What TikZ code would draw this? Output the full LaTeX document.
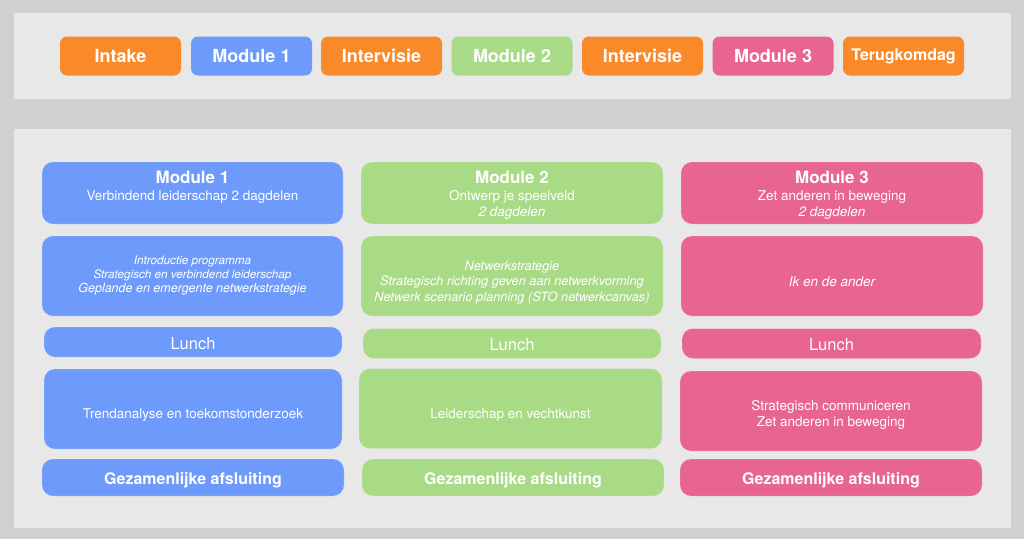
\documentclass[tikz,border=0pt]{standalone}
\usepackage{fontspec}
\setmainfont{TeX Gyre Heros}
\definecolor{bgc}{HTML}{D0D0D0}
\definecolor{panelc}{HTML}{E8E8E8}
\definecolor{mblue}{HTML}{6D9AFB}
\definecolor{mgreen}{HTML}{A9DB86}
\definecolor{mpink}{HTML}{E76493}
\definecolor{morange}{HTML}{FA8A29}
\newcommand\fHead{\fontsize{17}{16.5}\selectfont\bfseries}
\newcommand\fSub{\fontsize{13.5}{16.5}\selectfont\mdseries\upshape}
\newcommand\fSubIt{\fontsize{13.5}{16.5}\selectfont\mdseries\itshape}
\newcommand\fSmIt{\fontsize{11.7}{14}\selectfont\mdseries\itshape}
\newcommand\fMdIt{\fontsize{12.5}{14}\selectfont\mdseries\itshape}
\newcommand\fNwIt{\fontsize{12.8}{15.5}\selectfont\mdseries\itshape}
\newcommand\fBody{\fontsize{13.5}{16}\selectfont\mdseries\upshape}
\begin{document}
\begin{tikzpicture}[x=1pt,y=-1pt,
  tab/.style={rounded corners=7pt, text=white, font=\fontsize{18}{20}\selectfont\bfseries,
    minimum width=121pt, minimum height=39pt, inner sep=0pt},
  card/.style={rounded corners=11pt, inner sep=0pt,
    draw=white, draw opacity=0.2, line width=0.6pt},
  lbl/.style={text=white, align=center, inner sep=0pt},
  headlbl/.style={lbl, font=\fontsize{13.5}{16.5}\selectfont},
  bodylbl/.style={lbl, font=\fontsize{13.5}{16}\selectfont},
  lunchlbl/.style={lbl, font=\fontsize{16.5}{18}\selectfont},
  closelbl/.style={lbl, font=\fontsize{16}{18}\selectfont\bfseries}
]
\useasboundingbox (0,0) rectangle (1024,539);
\fill[bgc] (0,0) rectangle (1024,539);
\fill[panelc] (14,13) rectangle (1011,98.7);
\fill[panelc] (14,128.7) rectangle (1011,527.7);

% top bar
\node[tab, fill=morange] (t1) at (120.5,56) {Intake};
\node[tab, fill=mblue]   (t2) at (251.5,56) {Module 1};
\node[tab, fill=morange] (t3) at (381.5,56) {Intervisie};
\node[tab, fill=mgreen]  (t4) at (512,56)   {Module 2};
\node[tab, fill=morange] (t5) at (642.5,56) {Intervisie};
\node[tab, fill=mpink]   (t6) at (773,56)   {Module 3};
\node[tab, fill=morange, font=\fontsize{16}{18}\selectfont\bfseries] (t7) at (903.5,56) {Terugkomdag};

% ---------- boxes ----------
% column 1
\node[card, fill=mblue, minimum width=301pt, minimum height=62pt] (h1) at (192.5,193) {};
\node[card, fill=mblue, minimum width=301pt, minimum height=80pt] (c1) at (192.5,276) {};
\node[card, fill=mblue, minimum width=298pt, minimum height=30pt] (l1) at (193,342) {};
\node[card, fill=mblue, minimum width=298pt, minimum height=80pt] (a1) at (193,409) {};
\node[card, fill=mblue, minimum width=302pt, minimum height=37pt] (g1) at (193,477.5) {};
% column 2
\node[card, fill=mgreen, minimum width=302pt, minimum height=62pt] (h2) at (512,193) {};
\node[card, fill=mgreen, minimum width=302pt, minimum height=80pt] (c2) at (512,276) {};
\node[card, fill=mgreen, minimum width=298pt, minimum height=30pt] (l2) at (512,343.5) {};
\node[card, fill=mgreen, minimum width=303pt, minimum height=80pt] (a2) at (510.5,408.5) {};
\node[card, fill=mgreen, minimum width=302pt, minimum height=37pt] (g2) at (513,477.5) {};
% column 3
\node[card, fill=mpink, minimum width=302pt, minimum height=62pt] (h3) at (832,193) {};
\node[card, fill=mpink, minimum width=302pt, minimum height=80pt] (c3) at (832,276) {};
\node[card, fill=mpink, minimum width=299pt, minimum height=30pt] (l3) at (831.5,343.5) {};
\node[card, fill=mpink, minimum width=302pt, minimum height=80pt] (a3) at (831,411) {};
\node[card, fill=mpink, minimum width=302pt, minimum height=37pt] (g3) at (831,477.5) {};

% ---------- texts ----------
% column 1
\node[headlbl] (h1t) at (192.5,187.5) {\fHead Module 1\\ \fSub Verbindend leiderschap 2 dagdelen};
\node[lbl, font=\fontsize{12}{14}\selectfont] (c1t) at (192.5,276) {\fSmIt Introductie programma\\ \fSmIt Strategisch en verbindend leiderschap\\ \fMdIt Geplande en emergente netwerkstrategie};
\node[lunchlbl] (l1t) at (193,343.5) {Lunch};
\node[bodylbl] (a1t) at (193,415) {\fBody Trendanalyse en toekomstonderzoek};
\node[closelbl] (g1t) at (193,480.5) {Gezamenlijke afsluiting};
% column 2
\node[headlbl] (h2t) at (512,195.5) {\fHead Module 2\\ \fSub Ontwerp je speelveld\\ \fSubIt 2 dagdelen};
\node[lbl, font=\fontsize{12.8}{15.5}\selectfont] (c2t) at (512,282.5) {\fNwIt Netwerkstrategie\\ \fNwIt Strategisch richting geven aan netwerkvorming\\ \fNwIt Netwerk scenario planning (STO netwerkcanvas)};
\node[lunchlbl] (l2t) at (512,344.5) {Lunch};
\node[bodylbl] (a2t) at (510.5,415.5) {\fBody Leiderschap en vechtkunst};
\node[closelbl] (g2t) at (513,480.5) {Gezamenlijke afsluiting};
% column 3
\node[headlbl] (h3t) at (832,195.5) {\fHead Module 3\\ \fSub Zet anderen in beweging\\ \fSubIt 2 dagdelen};
\node[bodylbl, font=\fontsize{13.5}{16}\selectfont\itshape] (c3t) at (832,282) {Ik en de ander};
\node[lunchlbl] (l3t) at (831.5,344.5) {Lunch};
\node[bodylbl] (a3t) at (831,414.5) {\fBody Strategisch communiceren\\ \fBody Zet anderen in beweging};
\node[closelbl] (g3t) at (831,480.5) {Gezamenlijke afsluiting};
\end{tikzpicture}
\end{document}
